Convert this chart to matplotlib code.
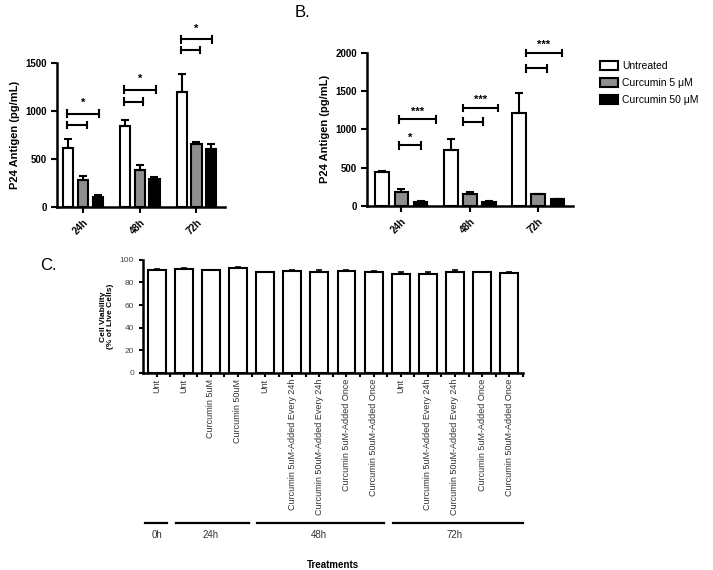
import numpy as np
import matplotlib
matplotlib.use("Agg")
import matplotlib.pyplot as plt
from matplotlib.patches import Patch
import matplotlib.transforms as mtransforms

plt.rcParams['font.family'] = ['Liberation Sans', 'DejaVu Sans']

# ---- data ----
timepoints = ["24h", "48h", "72h"]
series_names = ["Untreated", "Curcumin 5 μM", "Curcumin 50 μM"]

a_untreated = [610, 850, 1200]
a_untreated_err = [100, 60, 190]
a_cur5 = [280, 390, 660]
a_cur5_err = [40, 50, 20]
a_cur50 = [100, 290, 600]
a_cur50_err = [25, 20, 55]

b_untreated = [440, 730, 1220]
b_untreated_err = [15, 140, 250]
b_cur5 = [185, 150, 150]
b_cur5_err = [30, 25, 5]
b_cur50 = [55, 55, 85]
b_cur50_err = [10, 10, 5]

c_labels = ["Unt", "Unt", "Curcumin 5uM", "Curcumin 50uM", "Unt",
            "Curcumin 5uM-Added Every 24h", "Curcumin 50uM-Added Every 24h",
            "Curcumin 5uM-Added Once", "Curcumin 50uM-Added Once", "Unt",
            "Curcumin 5uM-Added Every 24h", "Curcumin 50uM-Added Every 24h",
            "Curcumin 5uM-Added Once", "Curcumin 50uM-Added Once"]
c_values = [91.5, 92, 91, 93, 89, 90, 89.5, 90.5, 89, 87.5, 87.5, 89.5, 89, 88.5]
c_err = [0.5, 1, 0.5, 0.3, 0.5, 1, 1.2, 0.5, 0.8, 2, 1.5, 1.2, 0.5, 1]
c_groups = ["0h", "24h", "48h", "72h"]
c_group_ranges = [(0, 0), (1, 3), (4, 8), (9, 13)]

colors = ["white", "#8e8e8e", "black"]

fig = plt.figure(figsize=(7.13, 5.7), dpi=100)


def style_axes(ax):
    for s in ["top", "right"]:
        ax.spines[s].set_visible(False)
    for s in ["left", "bottom"]:
        ax.spines[s].set_linewidth(1.8)
    ax.tick_params(width=1.5, length=4, direction="out")


def grouped(ax, vals, errs, offset, width):
    x = np.arange(len(timepoints))
    for i, (v, e) in enumerate(zip(vals, errs)):
        ax.bar(x + (i - 1) * offset, v, width, color=colors[i], edgecolor="black",
               linewidth=1.5, yerr=[np.zeros(len(e)), e],
               error_kw=dict(ecolor="black", elinewidth=1.5, capsize=3, capthick=1.5),
               zorder=2)
    ax.set_xticks(x)
    ax.set_xticklabels(timepoints, rotation=45, ha="right", rotation_mode="anchor",
                       fontsize=7, fontweight="bold")
    for lab in ax.get_yticklabels():
        lab.set_fontweight("bold")
        lab.set_fontsize(7)
    ax.set_ylabel("P24 Antigen (pg/mL)", fontsize=8, fontweight="bold")


def bracket(ax, x0, x1, y, cap):
    ax.plot([x0, x1], [y, y], color="black", lw=1.5, clip_on=False)
    ax.plot([x0, x0], [y - cap, y + cap], color="black", lw=1.5, clip_on=False)
    ax.plot([x1, x1], [y - cap, y + cap], color="black", lw=1.5, clip_on=False)


# ---- panel A ----
axA = fig.add_axes([0.080, 0.637, 0.236, 0.252])
style_axes(axA)
grouped(axA, [a_untreated, a_cur5, a_cur50],
        [a_untreated_err, a_cur5_err, a_cur50_err], 0.26, 0.18)
axA.set_xlim(-0.46, 2.51)
axA.set_ylim(0, 1500)
axA.set_yticks([0, 500, 1000, 1500])
for c, (ys, yl) in enumerate([(855, 975), (1100, 1225), (1640, 1750)]):
    bracket(axA, c - 0.28, c + 0.06, ys, 35)
    bracket(axA, c - 0.28, c + 0.28, yl, 35)
    axA.text(c, yl + 55, "*", ha="center", va="bottom", fontsize=8, fontweight="bold")

# ---- panel B ----
axB = fig.add_axes([0.515, 0.639, 0.289, 0.268])
style_axes(axB)
grouped(axB, [b_untreated, b_cur5, b_cur50],
        [b_untreated_err, b_cur5_err, b_cur50_err], 0.28, 0.2)
axB.set_xlim(-0.5, 2.51)
axB.set_ylim(0, 2000)
axB.set_yticks([0, 500, 1000, 1500, 2000])
b_br = [(-0.03, 0.29, 0.5, 790, 1130, "*", "***"),
        (-0.1, 0.19, 0.41, 1100, 1280, None, "***"),
        (-0.18, 0.13, 0.34, 1800, 2000, None, "***")]
for c, (x0, xs, xl, ys, yl, ss, sl) in enumerate(b_br):
    bracket(axB, c + x0, c + xs, ys, 45)
    bracket(axB, c + x0, c + xl, yl, 45)
    if ss:
        axB.text(c + (x0 + xs) / 2, ys + 40, ss, ha="center", va="bottom",
                 fontsize=8, fontweight="bold")
    axB.text(c + (x0 + xl) / 2, yl + 40, sl, ha="center", va="bottom",
             fontsize=8, fontweight="bold")

handles = [Patch(facecolor=col, edgecolor="black", linewidth=1.5) for col in colors]
fig.legend(handles, series_names, loc="upper left",
           bbox_to_anchor=(600 / 713, 1 - 61 / 570), borderaxespad=0, borderpad=0,
           frameon=False, fontsize=7.5, handlelength=1.75, handleheight=0.9,
           labelspacing=0.68, handletextpad=0.35)
fig.text(0.413, 0.978, "B.", fontsize=12, va="center")

# ---- panel C ----
axC = fig.add_axes([0.2006, 0.346, 0.5326, 0.198])
style_axes(axC)
xc = np.arange(len(c_values))
axC.bar(xc, c_values, 0.66, color="white", edgecolor="black", linewidth=1.5,
        yerr=[np.zeros(len(c_err)), c_err],
        error_kw=dict(ecolor="black", elinewidth=1.2, capsize=2.5, capthick=1.2),
        zorder=2)
axC.set_xlim(-0.5, 13.5)
axC.set_ylim(0, 100)
axC.set_yticks([0, 20, 40, 60, 80, 100])
axC.tick_params(axis="y", labelsize=6, length=3, colors="black", labelcolor="#444444")
axC.set_xticks(xc)
axC.set_xticks(xc + 0.5, minor=True)
axC.tick_params(axis="x", which="both", length=3, width=1.5, pad=1.5)
axC.set_xticklabels(c_labels, rotation=90, fontsize=6.5, color="#333333")
axC.set_ylabel("Cell Viability\n(% of Live Cells)", fontsize=6, fontweight="bold",
               linespacing=1.0)
trans = mtransforms.blended_transform_factory(axC.transData, fig.transFigure)
for k, (name, (i0, i1)) in enumerate(zip(c_groups, c_group_ranges)):
    left = i0 - 0.44 if k == 0 else i0 - 0.3
    right = i1 + 0.5 if k == len(c_groups) - 1 else i1 + 0.4
    axC.plot([left, right], [1 - 523 / 570] * 2, color="black", lw=1.6,
             transform=trans, clip_on=False)
    axC.text((i0 + i1) / 2, 1 - 535 / 570, name, transform=trans, ha="center",
             va="center", fontsize=7, color="#333333")
fig.text(0.467, 1 - 560 / 570, "Treatments", ha="center", va="top", fontsize=7,
         fontweight="bold")
fig.text(0.056, 1 - 266 / 570, "C.", fontsize=12, va="center")

fig.savefig("out.png", dpi=100)
